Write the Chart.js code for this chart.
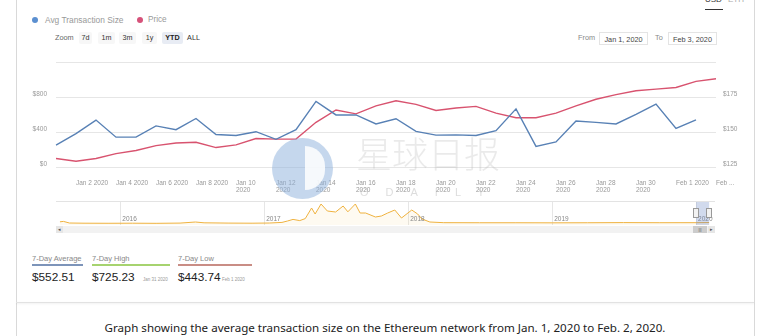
<!DOCTYPE html>
<html><head><meta charset="utf-8">
<script src="https://cdn.jsdelivr.net/npm/chart.js@4.4.1/dist/chart.umd.min.js"></script>
<style>
html,body{margin:0;padding:0;width:775px;height:336px;overflow:hidden;background:#fff;font-family:'Liberation Sans',Arial,sans-serif;position:relative;}
.a{position:absolute;white-space:nowrap;}
.btn{position:absolute;top:32px;height:12px;line-height:12px;font-size:7.2px;color:#333;text-align:center;background:#f7f7f7;border-radius:2px;}
.lbl{font-size:7.5px;color:#888;}
.big{font-size:11.8px;color:#222;}
.sm{font-size:4.5px;color:#999;}
</style></head><body>

<!-- card borders -->
<div class="a" style="left:16px;top:0;width:1px;height:336px;background:#d9d9d9"></div>
<div class="a" style="left:754px;top:0;width:1px;height:336px;background:#d9d9d9"></div>
<div class="a" style="left:16px;top:302px;width:738px;height:1px;background:#e2e2e2;box-shadow:0 1px 2px rgba(0,0,0,0.08)"></div>

<!-- currency tabs (cut at top) -->
<div class="a" style="left:705px;top:-5px;font-size:8px;color:#333;">USD</div>
<div class="a" style="left:728px;top:-5px;font-size:8px;color:#aaa;">ETH</div>
<div class="a" style="left:705px;top:9px;width:18px;height:1px;background:#333"></div>

<!-- legend -->
<div class="a" style="left:32px;top:17px;width:6px;height:6px;border-radius:3px;background:#5b8fd0"></div>
<div class="a" style="left:45px;top:15px;font-size:8.4px;color:#999;line-height:10px">Avg Transaction Size</div>
<div class="a" style="left:137px;top:17px;width:6px;height:6px;border-radius:3px;background:#d6527a"></div>
<div class="a" style="left:148px;top:15px;font-size:8.2px;color:#999;line-height:10px">Price</div>

<!-- zoom buttons -->
<div class="a" style="left:55px;top:32px;line-height:12px;font-size:7.3px;color:#666">Zoom</div>
<div class="btn" style="left:79px;width:13px">7d</div>
<div class="btn" style="left:98px;width:17px">1m</div>
<div class="btn" style="left:119px;width:17px">3m</div>
<div class="btn" style="left:142px;width:15px">1y</div>
<div class="btn" style="left:162px;width:21px;background:#e8ecf4;font-weight:bold;color:#222">YTD</div>
<div class="btn" style="left:185px;width:17px;background:#fff">ALL</div>

<!-- date range inputs -->
<div class="a" style="left:578px;top:32px;line-height:12px;font-size:7.3px;color:#888">From</div>
<div class="a" style="left:599px;top:32px;width:49px;height:13px;border:1px solid #e4e4e4;font-size:7.3px;line-height:13px;color:#444;text-align:center;box-sizing:border-box">Jan 1, 2020</div>
<div class="a" style="left:655px;top:32px;line-height:12px;font-size:7.3px;color:#888">To</div>
<div class="a" style="left:668px;top:32px;width:49px;height:13px;border:1px solid #e4e4e4;font-size:7.3px;line-height:13px;color:#444;text-align:center;box-sizing:border-box">Feb 3, 2020</div>

<canvas id="main" class="a" style="left:0;top:50px" width="775" height="150"></canvas>
<canvas id="nav" class="a" style="left:56px;top:201px" width="659" height="24"></canvas>

<!-- navigator frame and scrollbar -->
<div class="a" style="left:56px;top:201px;width:659px;height:1px;background:#e3e3e3"></div>
<div class="a" style="left:56px;top:226px;width:659px;height:7px;background:#f2f2f2"></div>
<div class="a" style="left:56px;top:226px;width:7px;height:7px;background:#e6e6e6;font-size:5px;line-height:7px;text-align:center;color:#555">&#9666;</div>
<div class="a" style="left:693px;top:226px;width:14px;height:7px;background:#cccccc;font-size:4px;line-height:7px;text-align:center;color:#555">|||</div>
<div class="a" style="left:708px;top:226px;width:7px;height:7px;background:#e6e6e6;font-size:5px;line-height:7px;text-align:center;color:#555">&#9656;</div>

<!-- watermark -->
<div class="a" style="left:272px;top:138px;width:61px;height:61px;border-radius:31px;background:rgba(140,175,220,0.5)"></div>
<div class="a" style="left:305px;top:146px;width:20px;height:44px;border-radius:0 22px 22px 0;background:rgba(255,255,255,0.85)"></div>
<div class="a" style="left:356px;top:126px;font-family:'Noto Sans CJK SC';font-weight:300;font-size:36px;color:rgba(185,185,185,0.3);letter-spacing:0px">星球日报</div>
<div class="a" style="left:360px;top:186px;font-size:11px;color:rgba(180,180,180,0.45);letter-spacing:17px">ODAILY</div>

<!-- stats -->
<div class="a lbl" style="left:32px;top:254px">7-Day Average</div>
<div class="a" style="left:32px;top:264px;width:51px;height:2px;background:#7d94b9"></div>
<div class="a big" style="left:32px;top:270px">$552.51</div>
<div class="a lbl" style="left:92px;top:254px">7-Day High</div>
<div class="a" style="left:92px;top:264px;width:78px;height:2px;background:#a6d36f"></div>
<div class="a big" style="left:92px;top:270px">$725.23</div>
<div class="a sm" style="left:143px;top:277px">Jan 31 2020</div>
<div class="a lbl" style="left:178px;top:254px">7-Day Low</div>
<div class="a" style="left:178px;top:264px;width:74px;height:2px;background:#c98d85"></div>
<div class="a big" style="left:178px;top:270px">$443.74</div>
<div class="a sm" style="left:222px;top:277px">Feb 1 2020</div>

<!-- caption -->
<div class="a" style="left:0;width:770px;top:320px;text-align:center;font-family:'Noto Sans';font-size:11.6px;color:#222">Graph showing the average transaction size on the Ethereum network from Jan. 1, 2020 to Feb. 2, 2020.</div>

<script>
// ---------- data ----------
const days = ['Jan 1 2020','Jan 2 2020','Jan 3 2020','Jan 4 2020','Jan 5 2020','Jan 6 2020','Jan 7 2020','Jan 8 2020','Jan 9 2020','Jan 10 2020','Jan 11 2020','Jan 12 2020','Jan 13 2020','Jan 14 2020','Jan 15 2020','Jan 16 2020','Jan 17 2020','Jan 18 2020','Jan 19 2020','Jan 20 2020','Jan 21 2020','Jan 22 2020','Jan 23 2020','Jan 24 2020','Jan 25 2020','Jan 26 2020','Jan 27 2020','Jan 28 2020','Jan 29 2020','Jan 30 2020','Jan 31 2020','Feb 1 2020','Feb 2 2020','Feb 3 2020'];
const avgTransactionSize = [252,385,541,344,344,474,430,559,374,363,407,319,430,756,600,600,496,556,411,367,370,363,419,670,237,289,530,515,496,607,725.23,443.74,544,null];
const price = [131.1,129.2,131.1,134.6,136.9,140.4,142.3,142.8,139.0,140.9,145.5,145.1,145.1,157.2,166.1,163.3,169.0,172.7,170.1,165.7,167.5,168.7,163.8,160.5,160.5,163.8,169.0,173.8,177.1,179.9,181.1,182.3,186.7,188.6];
const xTickLabels = ['', 'Jan 2 2020', '', 'Jan 4 2020', '', 'Jan 6 2020', '', 'Jan 8 2020', '',
  ['Jan 10','2020'], '', ['Jan 12','2020'], '', ['Jan 14','2020'], '', ['Jan 16','2020'], '',
  ['Jan 18','2020'], '', ['Jan 20','2020'], '', ['Jan 22','2020'], '', ['Jan 24','2020'], '',
  ['Jan 26','2020'], '', ['Jan 28','2020'], '', ['Jan 30','2020'], '', 'Feb 1 2020', '', 'Feb ...'];
const leftTicks = [0, 400, 800, 1200];
const rightTicks = [125, 150, 175, 200];

// navigator (all-time avg transaction size, USD)
const navDates = ['2015-08-01','2015-08-10','2015-08-25','2015-10-01','2015-12-01','2016-02-01','2016-04-01','2016-06-01','2016-07-10','2016-08-01','2016-10-01','2016-12-01','2017-01-15','2017-02-15','2017-03-01','2017-03-15','2017-04-01','2017-04-15','2017-05-01','2017-05-10','2017-05-25','2017-06-10','2017-07-01','2017-07-20','2017-08-01','2017-08-20','2017-09-01','2017-09-15','2017-10-10','2017-10-25','2017-11-10','2017-11-28','2017-12-15','2018-01-10','2018-01-25','2018-02-05','2018-02-25','2018-04-01','2018-07-01','2018-10-01','2019-01-01','2019-04-01','2019-07-01','2019-10-01','2020-01-01','2020-02-03'];
const navValues = [800,900,500,450,430,450,420,480,750,550,480,450,500,650,1000,1400,1100,1600,4250,2750,5250,3500,3250,4750,3300,5250,3000,3000,2000,2250,3000,3750,1750,3750,2750,1500,750,580,560,560,540,560,600,570,580,620];
const navYears = [2016, 2017, 2018, 2019, 2020];
const navRange = ['2015-07-22','2020-02-18'];
const navSelection = ['2020-01-01','2020-02-03'];

// ---------- helpers ----------
function decYear(s){const [y,m,d]=s.split('-').map(Number);const t=Date.UTC(y,m-1,d),t0=Date.UTC(y,0,1),t1=Date.UTC(y+1,0,1);return y+(t-t0)/(t1-t0);}
const tickFont = {family:"'Liberation Sans', Arial, sans-serif", size:6.5};

new Chart(document.getElementById('main'), {
  type:'line',
  data:{labels:days, datasets:[
    {label:'Avg Transaction Size', data:avgTransactionSize, yAxisID:'y', borderColor:'#5881b5', borderWidth:1.4, pointRadius:0, tension:0, fill:false},
    {label:'Price', data:price, yAxisID:'y1', borderColor:'#d8536f', borderWidth:1.4, pointRadius:0, tension:0, fill:false}
  ]},
  options:{
    responsive:false, animation:false, devicePixelRatio:1,
    layout:{padding:{top:10,left:0,right:0,bottom:0}},
    plugins:{legend:{display:false}, tooltip:{enabled:false}},
    scales:{
      x:{type:'category', offset:false, grid:{display:false}, border:{display:false},
        ticks:{autoSkip:false, maxRotation:0, minRotation:0, align:'start', padding:4, color:'#999', font:tickFont,
          callback:(v,i)=>xTickLabels[i]},
        afterFit:s=>{s.height=33;}},
      y:{position:'left', min:leftTicks[0], max:leftTicks[leftTicks.length-1],
        afterBuildTicks:s=>{s.ticks=leftTicks.map(v=>({value:v}));},
        grid:{color:'#e6e6e6', drawTicks:false}, border:{display:false},
        ticks:{padding:9, color:'#999', font:tickFont, labelOffset:-3, callback:v=>v===1200?'':'$'+v},
        afterFit:s=>{s.width=56;}},
      y1:{position:'right', min:rightTicks[0], max:rightTicks[rightTicks.length-1],
        afterBuildTicks:s=>{s.ticks=rightTicks.map(v=>({value:v}));},
        grid:{drawOnChartArea:false, drawTicks:false}, border:{display:false},
        ticks:{padding:7, color:'#999', font:tickFont, labelOffset:-3, callback:v=>v===200?'':'$'+v},
        afterFit:s=>{s.width=59;}}
    }
  }
});

const navPlugin = {
  id:'navextras',
  afterDraw(chart){
    const {ctx, chartArea:a, scales:{x}} = chart;
    ctx.save();
    ctx.font = "6.5px 'Liberation Sans', Arial, sans-serif";
    ctx.fillStyle = '#888'; ctx.textAlign='left'; ctx.textBaseline='middle';
    x.ticks.forEach(t=>{ const px=x.getPixelForValue(t.value); ctx.fillText(String(t.value), px+2, a.bottom-6); });
    const x0 = x.getPixelForValue(decYear(navSelection[0])), x1 = x.getPixelForValue(decYear(navSelection[1]));
    ctx.fillStyle='rgba(102,133,194,0.3)';
    ctx.fillRect(x0, a.top, x1-x0, a.bottom-a.top);
    [x0,x1].forEach(px=>{
      ctx.fillStyle='#f2f2f2'; ctx.strokeStyle='#999'; ctx.lineWidth=1;
      ctx.fillRect(Math.round(px)-2.5, 7.5, 5, 9); ctx.strokeRect(Math.round(px)-2.5, 7.5, 5, 9);
    });
    ctx.restore();
  }
};

new Chart(document.getElementById('nav'), {
  type:'line',
  data:{datasets:[{data:navDates.map((d,i)=>({x:decYear(d), y:navValues[i]})), borderColor:'#efb23f', borderWidth:1, pointRadius:0, tension:0, fill:true, backgroundColor:'rgba(245,190,80,0.08)'}]},
  options:{
    responsive:false, animation:false, devicePixelRatio:1,
    layout:{padding:0},
    plugins:{legend:{display:false}, tooltip:{enabled:false}},
    scales:{
      x:{type:'linear', min:decYear(navRange[0]), max:decYear(navRange[1]),
        ticks:{display:false},
        afterBuildTicks:s=>{s.ticks=navYears.map(v=>({value:v}));},
        grid:{color:'#e6e6e6', drawTicks:false}, border:{display:false},
        afterFit:s=>{s.height=0;}},
      y:{display:false, min:0, max:6000}
    }
  },
  plugins:[navPlugin]
});
</script>
</body></html>
